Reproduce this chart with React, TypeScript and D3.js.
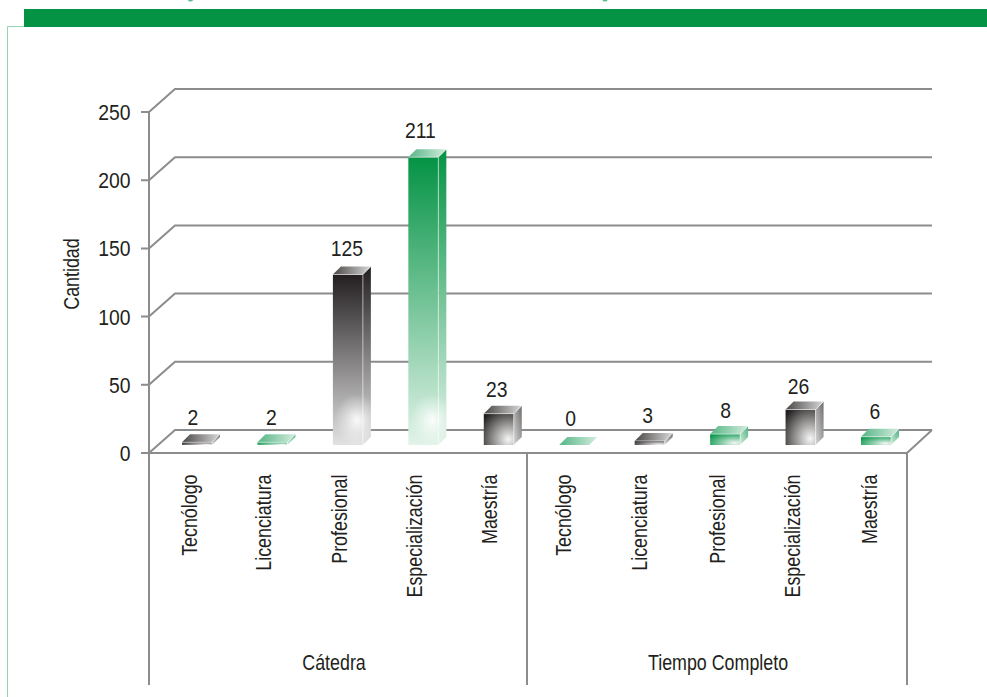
import React from "react";
import * as d3 from "d3";

const categories = ["Tecnólogo", "Licenciatura", "Profesional", "Especialización", "Maestría", "Tecnólogo", "Licenciatura", "Profesional", "Especialización", "Maestría"];
const values = [2, 2, 125, 211, 23, 0, 3, 8, 26, 6];
const palettes = ["dark", "green", "dark", "green", "dark", "green", "dark", "green", "dark", "green"];
const groups = ["Cátedra", "Tiempo Completo"];
const groupCenters = [334, 718];
const yTicks = [0, 50, 100, 150, 200, 250];
const catNudge = [0, -1, -1, -1, -2, -3, -3, 0, -1, 1];
const labelShiftX = [-4, -1, -1, -3, -2, -3.5, -2, 0.5, -2, -1];
const labelGap = [9, 9, 11, 11, 9, 11, 10, 8, 8, 10];
const cutOffSpecks = [190.5, 605];

const W = 987, H = 697;
const FONT = "'Liberation Sans',sans-serif";
const AXIS = "#8c8c8c";
const TEXT = "#231f20";
const DEPTH_X = 26, DEPTH_Y = 23;
const BAR_W = 30, BAR_D = 8;
const BASE = 445;
const FS = 21.5, SX = 0.83, SX_NUM = 0.9;

const yFront = d3.scaleLinear().domain([0, 250]).range([453, 112]);
const yBar = d3.scaleLinear().domain([0, 250]).range([BASE, BASE - 341]);
const xCenter = d3.scalePoint<number>().domain(values.map((_, i) => i)).range([197, 876]);

const colors: Record<string, any> = {
  dark: { top: "#231f20", bottom: "#e2e2e2", a: "#4a4746", b: "#d8d8d8", mid: "#6f6c6b" },
  green: { top: "#049345", bottom: "#e2f3e9", a: "#55b585", b: "#d3ecde", mid: "#4fb27f" },
};

function Label({ x, y, rotate = 0, anchor = "middle", sx = SX, children }: any) {
  return (
    <text transform={`translate(${x},${y}) rotate(${rotate}) scale(${sx},1)`} textAnchor={anchor} fontSize={FS} fill={TEXT}>{children}</text>
  );
}

function Defs() {
  return (
    <defs>
      {Object.keys(colors).map((k) => {
        const c = colors[k];
        return (
          <React.Fragment key={k}>
            <linearGradient id={`tall-${k}`} x1="0" y1="0" x2="0" y2="1">
              <stop offset="0" stopColor={c.top} />
              <stop offset="1" stopColor={c.bottom} />
            </linearGradient>
            <radialGradient id={`short-${k}`} cx="0.82" cy="0.82" r="1.05" gradientUnits="objectBoundingBox">
              <stop offset="0" stopColor="#f6f6f6" />
              <stop offset="0.45" stopColor={k === "dark" ? "#9a9897" : "#7fc9a2"} />
              <stop offset="1" stopColor={c.top} />
            </radialGradient>
            <linearGradient id={`shortside-${k}`} x1="0" y1="1" x2="1" y2="0">
              <stop offset="0" stopColor={c.b} />
              <stop offset="1" stopColor={c.mid} />
            </linearGradient>
            <linearGradient id={`lid-${k}`} x1="0" y1="0" x2="1" y2="0">
              <stop offset="0" stopColor={c.a} />
              <stop offset="1" stopColor={c.b} />
            </linearGradient>
          </React.Fragment>
        );
      })}
      <radialGradient id="glow">
        <stop offset="0" stopColor="#fff" stopOpacity="0.9" />
        <stop offset="0.5" stopColor="#fff" stopOpacity="0.4" />
        <stop offset="1" stopColor="#fff" stopOpacity="0" />
      </radialGradient>
    </defs>
  );
}

function Bar({ i }: { i: number }) {
  const v = values[i];
  const k = palettes[i];
  const cx = xCenter(i)!;
  const x0 = cx - BAR_W / 2, x1 = cx + BAR_W / 2;
  const yT = yBar(v);
  const h = BASE - yT;
  const tall = h > 60;
  const top = `M${x0},${yT}L${x0 + BAR_D},${yT - BAR_D}L${x1 + BAR_D},${yT - BAR_D}L${x1},${yT}Z`;
  const side = `M${x1},${yT}L${x1 + BAR_D},${yT - BAR_D}L${x1 + BAR_D},${BASE - BAR_D}L${x1},${BASE}Z`;
  const body = `M${x0},${yT}H${x1}L${x1 + BAR_D},${yT - BAR_D}V${BASE - BAR_D}L${x1},${BASE}H${x0}Z`;
  return (
    <g>
      {h > 0 && <rect x={x0} y={yT} width={BAR_W} height={h} fill={`url(#${tall ? "tall" : "short"}-${k})`} />}
      {h > 0 && <path d={side} fill={`url(#${tall ? "tall" : "shortside"}-${k})`} />}
      <path d={top} fill={`url(#lid-${k})`} />
      {tall && (
        <g>
          <clipPath id={`clip-${i}`}><path d={body} /></clipPath>
          <ellipse cx={x0 + 24} cy={BASE - 25} rx={22} ry={26} fill="url(#glow)" clipPath={`url(#clip-${i})`} />
        </g>
      )}
      {h > 0 && <path d={`M${x0},${yT}H${x1}V${BASE}M${x1},${yT}L${x1 + BAR_D},${yT - BAR_D}`} fill="none" stroke="#fff" strokeOpacity={0.65} strokeWidth={0.8} />}
      <Label x={cx + labelShiftX[i]} y={yT - BAR_D - labelGap[i]} sx={SX_NUM}>{v}</Label>
    </g>
  );
}

export default function App() {
  const x = 149, xBack = x + DEPTH_X, xEnd = 907, xEndBack = xEnd + 25, xDiv = 527, yBottom = 685;
  return (
    <svg width={W} height={H} viewBox={`0 0 ${W} ${H}`} style={{ position: "absolute", left: 0, top: 0, background: "#fff" }} fontFamily={FONT}>
      <Defs />
      {cutOffSpecks.map((s) => <ellipse key={s} cx={s} cy={0} rx={2.5} ry={1.5} fill="#5dbb8c" />)}
      <rect x={24} y={9} width={963} height={18} fill="#049345" />
      <path d="M24,26.5H7.5V697" fill="none" stroke="#93d3ae" strokeWidth={1} />

      <g fill="none" stroke={AXIS} strokeWidth={2}>
        {yTicks.map((t) => (
          <path key={t} d={`M${x - 8},${yFront(t)}H${x}L${xBack},${yFront(t) - DEPTH_Y}H${xEndBack}`} />
        ))}
        <path d={`M${x},${yFront(250)}V${yBottom}`} />
        <path d={`M${x},${yFront(0)}H${xEnd}L${xEndBack},${yFront(0) - DEPTH_Y}`} />
        <path d={`M${xDiv},${yFront(0)}V${yBottom}`} />
        <path d={`M${xEnd},${yFront(0)}V${yBottom}`} />
      </g>

      {yTicks.map((t) => (
        <Label key={t} x={130.5} y={yFront(t) + 8} anchor="end" sx={SX_NUM}>{t}</Label>
      ))}
      <Label x={79} y={274} rotate={-90}>Cantidad</Label>

      {values.map((_, i) => <Bar key={i} i={i} />)}

      {categories.map((c, i) => (
        <Label key={i} x={xCenter(i)! + catNudge[i]} y={474.5} rotate={-90} anchor="end">{c}</Label>
      ))}
      {groups.map((g, i) => (
        <Label key={g} x={groupCenters[i]} y={670}>{g}</Label>
      ))}
    </svg>
  );
}
